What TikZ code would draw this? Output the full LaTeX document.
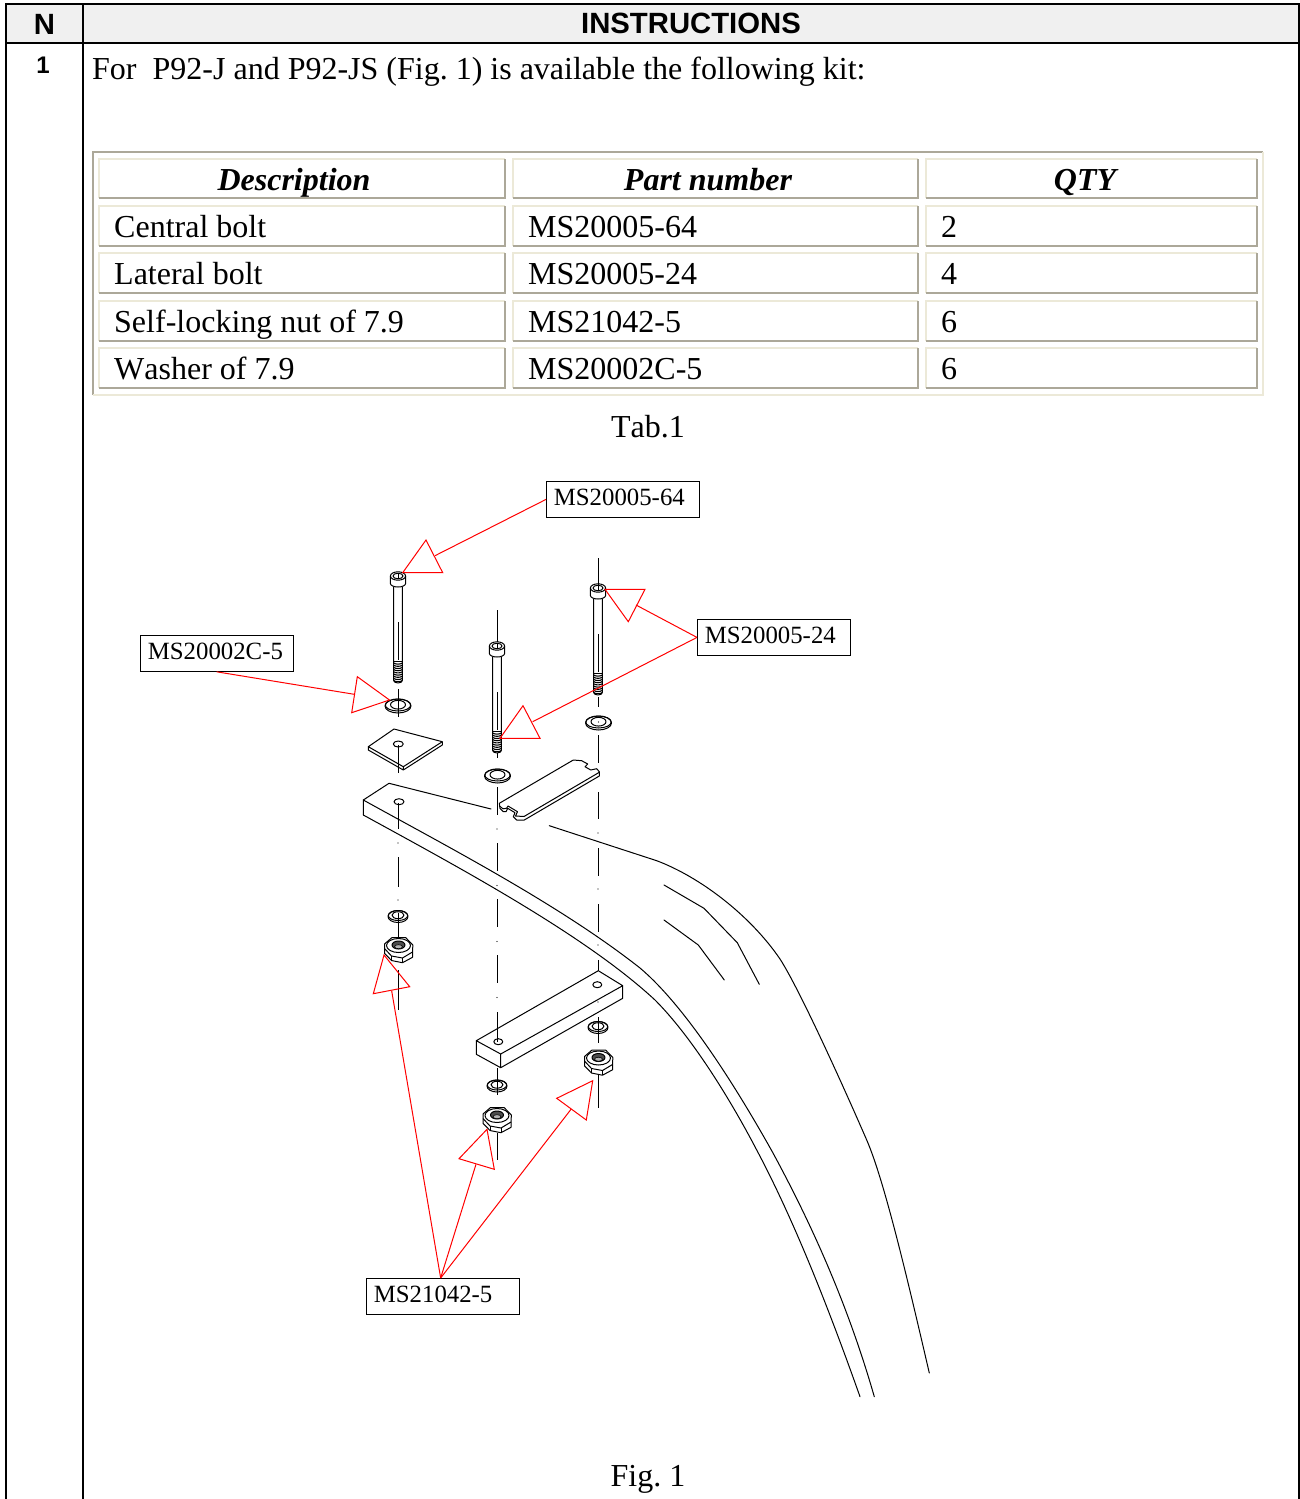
\documentclass[tikz,border=0pt]{standalone}
\usepackage{fontspec}
\setmainfont[Kerning=Off]{Liberation Serif}
\newfontfamily\hdfont{Liberation Sans}
\definecolor{tdark}{HTML}{ACA899}
\definecolor{tlight}{HTML}{ECE9D8}
\definecolor{hdfill}{HTML}{F0F0F0}
\newcommand{\fs}[1]{\fontsize{#1}{#1}\selectfont}
\newcommand{\tcellbox}[4]{%
  \draw[tlight,line width=1.6pt] (#1,#4) -- (#1,#2) -- (#3,#2);
  \draw[tdark,line width=1.6pt] (#3,#2) -- (#3,#4) -- (#1,#4);
}
\newcommand{\boltshape}[2]{%
\begin{scope}[shift={(#1,#2)}]
  \draw[part] (-7.6,4) -- (-7.6,11.5) arc[start angle=180,end angle=0,x radius=7.6,y radius=3.5] -- (7.6,4);
  \draw[part] (0,4) ellipse [x radius=7.6,y radius=4.2];
  \draw[part] (0,4) ellipse [x radius=5,y radius=2.8];
  \draw[thinpart] (0,1.3) -- (0,6.7);
  \draw[part] (-4.3,15) -- (-4.3,108.5) arc[start angle=180,end angle=0,x radius=4.3,y radius=2.5] -- (4.3,15);
  \draw[thinpart] (-3.9,89) -- (3.9,89);
  \foreach \t in {91,93.2,...,108.8} {\draw[part,line width=1.1pt] (-4.3,\t) .. controls (-2,\t+1.5) and (2,\t+1.5) .. (4.3,\t);}
  \draw[part,line width=.8pt] (0,50) -- (0,88);
\end{scope}}
\newcommand{\washershape}[5]{%
\begin{scope}[shift={(#1,#2)}]
  \draw[part,fill=white] (0,1) ellipse [x radius=#3,y radius=#4];
  \draw[part] (0,0) ellipse [x radius=#3-.3,y radius=#4-1];
  \draw[part] (0,-.3) ellipse [x radius=#5,y radius=#5*.58];
\end{scope}}
\newcommand{\nutshape}[2]{%
\begin{scope}[shift={(#1,#2)}]
  \draw[part,fill=white] (-14,-6) -- (-6.7,-12.3) -- (7.3,-12.3) -- (14.3,-5) -- (14,7.3) -- (4,12.7) -- (-7,10.5) -- (-14,3.3) -- cycle;
  \draw[part] (-14,-1.5) -- (-7,6) -- (4,8) -- (14,2);
  \draw[part] (-7,6) -- (-7,10.5) (4,8) -- (4,12.7);
  \draw[part] (0,-4.5) ellipse [x radius=12,y radius=7];
  \draw[part,fill=black!70] (0,-5) ellipse [x radius=6.5,y radius=4];
  \draw[line width=.6pt,fill=black!30] (0,-3.3) ellipse [x radius=4,y radius=2];
\end{scope}}
\newcommand{\axisseg}[3]{\draw[part] (#1,#2) -- (#1,#3);}
\newcommand{\axisdot}[2]{\fill (#1,#2) circle[radius=.6];}
\tikzset{
  part/.style={black,line width=1pt,line join=round},
  thinpart/.style={black,line width=.6pt},
  rib/.style={black,line width=1pt,line cap=round,line join=round},
  ptr/.style={red,line width=1pt,line join=miter},
  rule/.style={black,line width=2.4pt},
  tabtxt/.style={anchor=base west,inner sep=0pt,font=\fs{32}},
  tabhd/.style={anchor=base,inner sep=0pt,font=\fs{32}\bfseries\itshape},
  lbl/.style={draw=black,line width=.8pt,anchor=north west,minimum width=152.5pt,minimum height=36pt,
    text width=137.5pt,inner xsep=7.5pt,inner ysep=0pt,text height=24pt,text depth=12pt,align=left,fill=white,font=\fs{24.8}},
}
\begin{document}
\frenchspacing
\begin{tikzpicture}[x=1pt,y=-1pt]
\useasboundingbox (0,0) rectangle (1300,1499);
% outer frame
\fill[hdfill] (6,5) rectangle (1299,43);
\draw[rule] (6,1499) -- (6,4) -- (1299,4) -- (1299,1499);
\draw[rule] (6,43) -- (1299,43);
\draw[rule] (83,4) -- (83,1499);
\node[anchor=base,inner sep=0pt,font=\hdfont\bfseries\fs{29.3}] (hn) at (44.5,34) {N};
\node[anchor=base,inner sep=0pt,font=\hdfont\bfseries\fs{29.3}] (hi) at (691,33) {INSTRUCTIONS};
\node[anchor=base,inner sep=0pt,font=\hdfont\bfseries\fs{24}] (rn) at (43,73) {1};
\node[tabtxt] (intro) at (92,79) {For\ \ P92-J and P92-JS (Fig. 1) is available the following kit:};
% table
\draw[tdark,line width=1.6pt] (93,395) -- (93,152) -- (1263,152);
\draw[tlight,line width=1.6pt] (1263,152) -- (1263,395) -- (93,395);
\foreach \ya/\yb in {159/198,206/246,253/293,301/341,348/388}{
  \tcellbox{99}{\ya}{505}{\yb}
  \tcellbox{513}{\ya}{918}{\yb}
  \tcellbox{926}{\ya}{1257}{\yb}
}
\node[tabhd] (h1) at (294,190) {Description};
\node[tabhd] (h2) at (708,190) {Part number};
\node[tabhd] (h3) at (1085,190) {QTY};
\node[tabtxt] (a1) at (114,237) {Central bolt};
\node[tabtxt] (b1) at (528,237) {MS20005-64};
\node[tabtxt] (c1) at (941,237) {2};
\node[tabtxt] (a2) at (114,284) {Lateral bolt};
\node[tabtxt] (b2) at (528,284) {MS20005-24};
\node[tabtxt] (c2) at (941,284) {4};
\node[tabtxt] (a3) at (114,332) {Self-locking nut of 7.9};
\node[tabtxt] (b3) at (528,332) {MS21042-5};
\node[tabtxt] (c3) at (941,332) {6};
\node[tabtxt] (a4) at (114,379) {Washer of 7.9};
\node[tabtxt] (b4) at (528,379) {MS20002C-5};
\node[tabtxt] (c4) at (941,379) {6};
\node[anchor=base,inner sep=0pt,font=\fs{32}] (tab) at (648,437) {Tab.1};
\node[anchor=base,inner sep=0pt,font=\fs{32}] (fig) at (648,1486) {Fig. 1};
% axes
\foreach \a/\b in {857/887,970/1010}{\axisseg{398}{\a}{\b}}
\foreach \d in {843,900}{\axisdot{398}{\d}}
\foreach \a/\b in {610/642,753/758,787/815,843/871,899/927,955/983,1012/1042,1133/1160}{\axisseg{497}{\a}{\b}}
\foreach \d in {829,885.5,941.5,997.5}{\axisdot{497}{\d}}
\foreach \a/\b in {558/585,697/707,735/763,792/819,848/876,904/932,960/971,1073/1108}{\axisseg{598}{\a}{\b}}
\foreach \d in {833,889,945,1002}{\axisdot{598}{\d}}
% bolts
\boltshape{398}{572}
\boltshape{497}{642}
\boltshape{598}{584}
% washers
\washershape{398}{705}{13}{7}{7.5}
\washershape{497.5}{775}{13}{7}{7.5}
\washershape{598.5}{722}{13}{7}{7.5}
\washershape{398}{915.5}{10}{6}{6}
\washershape{497}{1085}{10}{6}{6}
\washershape{598}{1026.5}{10}{6}{6}
\axisseg{398}{689}{717}
\axisseg{398}{913}{945}
\axisseg{497}{1068}{1095}
\axisseg{598}{1017}{1043}
\fill (598.5,722) circle[radius=.6];
% square plate
\draw[part] (368.3,746.7) -- (394,729) -- (442.3,741.7) -- (403.3,766.7) -- cycle;
\draw[part] (368.3,746.7) -- (368.3,750) -- (403.3,770) -- (442.3,745) -- (442.3,741.7) (403.3,766.7) -- (403.3,770);
\draw[part] (398.3,744) ellipse [x radius=5,y radius=3];
\axisseg{398}{745}{773}
% beam
\draw[rib] (491,809) -- (389,783.3) -- (363.3,800) -- (363.3,815);
\draw[part] (399,801.7) ellipse [x radius=5,y radius=3];
\axisseg{398}{803}{829}
\draw[rib] (363.3,800) .. controls (450,848) and (560,905) .. (640,968) .. controls (685,1006) and (735,1085) .. (773,1153) .. controls (812,1225) and (848,1305) .. (874.3,1396.7);
\draw[rib] (363.3,815) .. controls (460,868) and (585,935) .. (655,1000) .. controls (690,1035) and (728,1095) .. (756.7,1150) .. controls (795,1222) and (830,1312) .. (860,1396.7);
\draw[rib] (549.3,825.7) -- (656.7,860.7) .. controls (700,877) and (750,915) .. (780,959) .. controls (800,990) and (845,1090) .. (866.7,1140) .. controls (885,1182) and (910,1290) .. (929.3,1373);
\draw[rib] (664,885) -- (704,908.3) -- (737.3,942.7) -- (759.3,984.3);
\draw[rib] (664,920) -- (698.3,945) -- (724.3,980);
% long plate
\draw[part,fill=white] (499.3,803.3) -- (573.3,760) -- (581.7,760.7) -- (587.7,764) -- (585,766.7) -- (590.7,770) -- (596.7,768.7) -- (599.3,771.7) -- (599.3,776) -- (524.3,820) -- (516.7,820) -- (513.3,816.7) -- (515,812.7) -- (507.7,808.3) -- (506,811.7) -- (503.3,811.7) -- (500,808.3) -- cycle;
\draw[part] (499.5,806) -- (503,808.8) -- (506.5,808.3) -- (508,806) -- (517.5,811.7) -- (515.5,816) -- (524,816.5) -- (599.3,772.3);
% bar
\draw[part] (476.3,1040.7) -- (598.3,970.7) -- (622.7,985.7) -- (500.7,1054) -- cycle;
\draw[part] (476.3,1040.7) -- (476.3,1054.3) -- (500.7,1067.7) -- (622.7,998.3) -- (622.7,985.7) (500.7,1054) -- (500.7,1067.7);
\draw[part] (498.3,1041.7) ellipse [x radius=4.5,y radius=3];
\draw[part] (597.3,984.7) ellipse [x radius=4.5,y radius=3];
% nuts
\nutshape{398.5}{950}
\nutshape{497}{1120}
\nutshape{598.5}{1062.5}
% labels
\node[lbl] (ms64) at (546,481) {MS20005-64};
\node[lbl] (ms2c) at (140,635) {MS20002C-5};
\node[lbl] (ms24) at (697,619) {MS20005-24};
\node[lbl] (ms21) at (366,1278) {MS21042-5};
% pointers
\coordinate (p1a) at (402.7,572.7); \coordinate (p1b) at (426,540); \coordinate (p1c) at (442.7,572.7); \coordinate (p1j) at (435,555.7);
\coordinate (p2a) at (389.5,700); \coordinate (p2b) at (357.3,676.7); \coordinate (p2c) at (351.7,712.7); \coordinate (p2j) at (354.3,694.3);
\coordinate (p3a) at (605,589.3); \coordinate (p3b) at (645,589.3); \coordinate (p3c) at (628.3,621.7); \coordinate (p3j) at (636,605);
\coordinate (p4a) at (500,738.3); \coordinate (p4b) at (523,705.7); \coordinate (p4c) at (540,738.3); \coordinate (p4j) at (532.7,721.7);
\coordinate (p5a) at (384,955); \coordinate (p5b) at (373.3,993.7); \coordinate (p5c) at (409.7,986.7); \coordinate (p5j) at (391.7,991);
\coordinate (p6a) at (487,1129.3); \coordinate (p6b) at (459,1158.7); \coordinate (p6c) at (494.3,1169.3); \coordinate (p6j) at (476,1164.3);
\coordinate (p7a) at (592.7,1080.7); \coordinate (p7b) at (556.7,1098.3); \coordinate (p7c) at (586.3,1120); \coordinate (p7j) at (571,1109.3);
\foreach \i in {1,...,7}{\draw[ptr] (p\i a) -- (p\i b) -- (p\i c) -- cycle;}
\draw[ptr] (ms64.west) -- (p1j);
\draw[ptr] (ms2c.south) -- (p2j);
\draw[ptr] (ms24.west) -- (p3j);
\draw[ptr] (ms24.west) -- (p4j);
\draw[ptr] ([xshift=-2pt]ms21.north) -- (p5j);
\draw[ptr] ([xshift=-2pt]ms21.north) -- (p6j);
\draw[ptr] ([xshift=-2pt]ms21.north) -- (p7j);
\end{tikzpicture}
\end{document}
